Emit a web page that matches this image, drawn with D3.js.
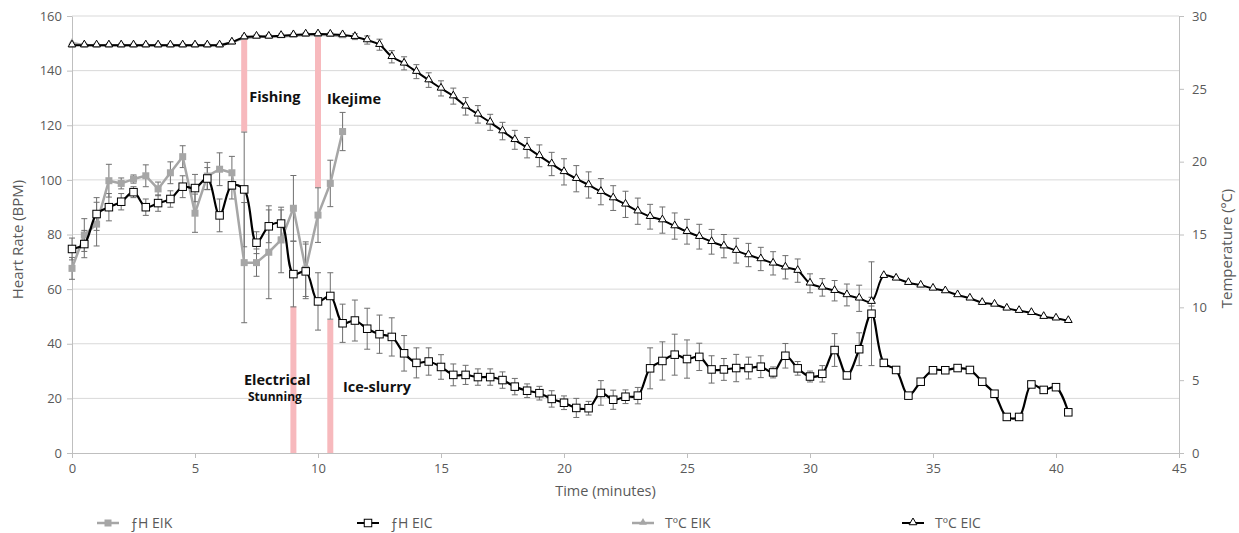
<!DOCTYPE html>
<html>
<head>
<meta charset="utf-8">
<script src="https://cdn.jsdelivr.net/npm/d3@7"></script>
<style>
  body { margin: 0; background: #fff; }
  text { font-family: "Open Sans", "DejaVu Sans", sans-serif; }
</style>
</head>
<body>
<div id="container"></div>
<script>
// times (minutes) for the EIC series and for the shorter EIK series
const timeEIC = [0, 0.5, 1, 1.5, 2, 2.5, 3, 3.5, 4, 4.5, 5, 5.5, 6, 6.5, 7, 7.5, 8, 8.5, 9, 9.5,
  10, 10.5, 11, 11.5, 12, 12.5, 13, 13.5, 14, 14.5, 15, 15.5, 16, 16.5, 17, 17.5, 18, 18.5, 19, 19.5,
  20, 20.5, 21, 21.5, 22, 22.5, 23, 23.5, 24, 24.5, 25, 25.5, 26, 26.5, 27, 27.5, 28, 28.5, 29, 29.5,
  30, 30.5, 31, 31.5, 32, 32.5, 33, 33.5, 34, 34.5, 35, 35.5, 36, 36.5, 37, 37.5, 38, 38.5, 39, 39.5,
  40, 40.5];
const timeEIK = [0, 0.5, 1, 1.5, 2, 2.5, 3, 3.5, 4, 4.5, 5, 5.5, 6, 6.5, 7, 7.5, 8, 8.5, 9, 9.5,
  10, 10.5, 11];

// heart rate (BPM)
const fhEIC = [74.7, 76.5, 87.5, 90, 92, 95.5, 90, 91.5, 93, 97.5, 97, 100.5, 87, 98, 96.5, 77, 83, 84,
  65.5, 66.5, 55.5, 57.5, 47.5, 48.5, 45.5, 43.5, 42.5, 36.5, 33, 33.5, 31.5, 28.6, 28.6, 27.8, 27.8,
  26.7, 24.3, 22.8, 21.9, 19.8, 18.4, 16.5, 16.4, 22, 19.5, 20.6, 21, 31, 33.7, 36, 34.4, 35.2, 30.6,
  30.6, 31.1, 31.1, 31.6, 29.5, 35.6, 31, 28, 29, 37.7, 28.4, 38, 51, 33, 30.4, 21, 26.1, 30.3, 30.3,
  31.1, 30.4, 26.1, 21.7, 13.2, 13.2, 25.1, 23.1, 24.1, 14.9];
const fhEICerr = [4, 5, 6, 5, 3, 2, 3, 3, 3, 4, 5, 4, 6, 5, 21, 4, 6, 5, 12, 10, 10.5, 8.5, 7, 7.5, 7.5,
  7, 7, 6.5, 5.5, 5, 4.5, 4, 3.5, 3, 3, 3, 3, 2.5, 2.5, 3, 2.5, 3.5, 2.5, 4.5, 3.5, 2.5, 3, 7.5, 7, 7.5,
  7, 5, 5, 4, 5, 4, 4, 2, 4.5, 2.5, 2, 3, 6, 1, 6, 19, 0, 0, 0, 0, 0, 0, 0, 0, 0, 0, 0, 0, 0, 0, 0, 0];
const fhEIK = [67.6, 79.8, 83.8, 99.7, 98.7, 100.3, 101.5, 96.7, 102.6, 108.5, 87.8, 101.4, 103.9,
  102.6, 69.7, 69.7, 73.5, 78, 89.6, 67.3, 87.1, 98.7, 117.7];
const fhEIKerr = [4, 6, 8, 6, 2, 1.5, 4, 2.5, 4, 4, 7, 5, 6, 6, 22, 5, 17, 12, 12, 10, 10, 8.5, 7];

// temperature (ºC)
const tEIC = [28, 28, 28, 28, 28, 28, 28, 28, 28, 28, 28, 28, 28, 28.2, 28.55, 28.6, 28.6, 28.65, 28.7,
  28.75, 28.76, 28.74, 28.7, 28.58, 28.35, 28.03, 27.2, 26.75, 26.18, 25.6, 25.03, 24.5, 23.8, 23.25,
  22.7, 22.1, 21.5, 20.96, 20.4, 19.84, 19.3, 18.83, 18.4, 17.94, 17.5, 17.07, 16.6, 16.22, 15.99,
  15.58, 15.19, 14.85, 14.5, 14.2, 13.89, 13.59, 13.32, 13.02, 12.75, 12.52, 11.65, 11.37, 11.14,
  10.85, 10.62, 10.39, 12.17, 11.99, 11.69, 11.51, 11.3, 11.12, 10.85, 10.62, 10.32, 10.2, 9.93, 9.77,
  9.63, 9.36, 9.25, 9.08];
const tEICerr = [0.12, 0.12, 0.12, 0.12, 0.12, 0.12, 0.12, 0.12, 0.12, 0.12, 0.12, 0.12, 0.12, 0.12,
  0.12, 0.12, 0.12, 0.12, 0.12, 0.12, 0.12, 0.12, 0.12, 0.2, 0.28, 0.38, 0.42, 0.45, 0.48, 0.5, 0.52,
  0.55, 0.6, 0.6, 0.55, 0.6, 0.65, 0.7, 0.75, 0.8, 0.9, 0.9, 0.9, 0.9, 0.85, 0.9, 0.9, 0.85, 0.9, 0.9,
  0.85, 0.85, 0.85, 0.8, 0.85, 0.8, 0.8, 0.8, 0.8, 0.8, 0.65, 0.6, 0.7, 0.75, 0.9, 0.3, 0, 0, 0, 0, 0,
  0, 0, 0, 0, 0, 0, 0, 0, 0, 0, 0];
const tEIK = [28.15, 28, 28, 28, 28, 28, 28, 28, 28, 28, 28, 28, 28, 28.2, 28.5, 28.55, 28.6, 28.6,
  28.65, 28.7, 28.7, 28.7, 28.6];

// event markers: [time, from BPM, to BPM]
const eventNames = ["Fishing", "Ikejime", "Electrical", "Ice-slurry"];
const eventTimes = [7, 10, 9, 10.5];
const eventFrom = [117.7, 97.3, 0, 0];
const eventTo = [153, 153, 53.6, 48.7];

const xTicks = [0, 5, 10, 15, 20, 25, 30, 35, 40, 45];
const yLTicks = [0, 20, 40, 60, 80, 100, 120, 140, 160];
const yRTicks = [0, 5, 10, 15, 20, 25, 30];
const legendNames = ["ƒH EIK", "ƒH EIC", "TºC EIK", "TºC EIC"];

const WIDTH = 1239, HEIGHT = 533;
const margin = { left: 72, right: 60, top: 16, bottom: 80 };

const svg = d3.select('#container').append('svg')
  .attr('width', WIDTH).attr('height', HEIGHT);

const x = d3.scaleLinear().domain([0, 45]).range([margin.left, WIDTH - margin.right]);
const yL = d3.scaleLinear().domain([0, 160]).range([HEIGHT - margin.bottom, margin.top]);
const yR = d3.scaleLinear().domain([0, 30]).range([HEIGHT - margin.bottom, margin.top]);

const GREY = '#a6a6a6', TICK = '#595959', GRID = '#d9d9d9';

// gridlines
svg.append('g')
  .selectAll('line').data(yLTicks.filter(d => d > 0)).join('line')
  .attr('x1', x(0)).attr('x2', x(45))
  .attr('y1', d => yL(d)).attr('y2', d => yL(d))
  .attr('stroke', GRID).attr('stroke-width', 1);

// axes
const styleAxis = g => {
  g.select('.domain').attr('stroke', '#bfbfbf');
  g.selectAll('.tick line').attr('stroke', '#bfbfbf');
  g.selectAll('.tick text').attr('fill', TICK).attr('font-size', 13)
    .attr('font-family', '"Open Sans", sans-serif');
};
svg.append('g').attr('transform', `translate(0,${yL(0)})`)
  .call(d3.axisBottom(x).tickValues(xTicks).tickSize(5).tickPadding(6).tickSizeOuter(0))
  .call(styleAxis);
svg.append('g').attr('transform', `translate(${x(0)},0)`)
  .call(d3.axisLeft(yL).tickValues(yLTicks).tickSize(5).tickPadding(5).tickSizeOuter(0))
  .call(styleAxis);
svg.append('g').attr('transform', `translate(${x(45)},0)`)
  .call(d3.axisRight(yR).tickValues(yRTicks).tickSize(5).tickPadding(8).tickSizeOuter(0))
  .call(styleAxis);

// axis titles
svg.append('text')
  .attr('transform', `translate(23,${(yL(0) + yL(160)) / 2 + 5}) rotate(-90)`)
  .attr('text-anchor', 'middle').attr('font-size', 15).attr('fill', TICK)
  .text('Heart Rate (BPM)');
svg.append('text')
  .attr('transform', `translate(1232,${(yL(0) + yL(160)) / 2 + 14}) rotate(-90)`)
  .attr('text-anchor', 'middle').attr('font-size', 15).attr('fill', TICK)
  .text('Temperature (ºC)');
svg.append('text')
  .attr('x', x(22.5) - 20).attr('y', 496)
  .attr('text-anchor', 'middle').attr('font-size', 14.5).attr('fill', TICK)
  .text('Time (minutes)');

// event bars
svg.append('g').selectAll('rect').data(eventTimes).join('rect')
  .attr('x', d => x(d) - 3).attr('width', 6)
  .attr('y', (d, i) => yL(eventTo[i]))
  .attr('height', (d, i) => yL(eventFrom[i]) - yL(eventTo[i]))
  .attr('fill', '#f7b9bd');

// error bars
const errorBars = (times, vals, errs, scale) => {
  const g = svg.append('g').attr('stroke', '#6f6f6f').attr('stroke-width', 1);
  times.forEach((t, i) => {
    if (!errs[i]) return;
    const cx = x(t), top = scale(vals[i] + errs[i]), bot = scale(vals[i] - errs[i]);
    g.append('line').attr('x1', cx).attr('x2', cx).attr('y1', top).attr('y2', bot);
    g.append('line').attr('x1', cx - 3).attr('x2', cx + 3).attr('y1', top).attr('y2', top);
    g.append('line').attr('x1', cx - 3).attr('x2', cx + 3).attr('y1', bot).attr('y2', bot);
  });
};
errorBars(timeEIK, fhEIK, fhEIKerr, yL);
errorBars(timeEIC, fhEIC, fhEICerr, yL);
errorBars(timeEIC, tEIC, tEICerr, yR);

// series
const straight = d3.curveLinear, smooth = d3.curveCatmullRom.alpha(0.5);
const drawLine = (times, vals, scale, color, width, curve) => {
  svg.append('path')
    .datum(times.map((t, i) => [t, vals[i]]))
    .attr('fill', 'none').attr('stroke', color).attr('stroke-width', width)
    .attr('stroke-linejoin', 'round')
    .attr('d', d3.line().x(d => x(d[0])).y(d => scale(d[1])).curve(curve));
};
const tri = d3.symbol().type(d3.symbolTriangle).size(26);

// fH EIK
drawLine(timeEIK, fhEIK, yL, GREY, 2.5, straight);
svg.append('g').selectAll('rect').data(timeEIK).join('rect')
  .attr('x', d => x(d) - 3.5).attr('y', (d, i) => yL(fhEIK[i]) - 3.5)
  .attr('width', 7).attr('height', 7).attr('fill', GREY);

// fH EIC
drawLine(timeEIC, fhEIC, yL, '#000', 2.2, smooth);
svg.append('g').selectAll('rect').data(timeEIC).join('rect')
  .attr('x', d => x(d) - 3.75).attr('y', (d, i) => yL(fhEIC[i]) - 3.75)
  .attr('width', 7.5).attr('height', 7.5).attr('fill', '#fff')
  .attr('stroke', '#000').attr('stroke-width', 1);

// TºC EIK
drawLine(timeEIK, tEIK, yR, GREY, 2.5, straight);
svg.append('g').selectAll('path').data(timeEIK).join('path')
  .attr('d', tri).attr('transform', (d, i) => `translate(${x(d)},${yR(tEIK[i]) - 0.5})`)
  .attr('fill', GREY);

// TºC EIC
drawLine(timeEIC, tEIC, yR, '#000', 2, smooth);
svg.append('g').selectAll('path').data(timeEIC).join('path')
  .attr('d', tri).attr('transform', (d, i) => `translate(${x(d)},${yR(tEIC[i]) - 0.5})`)
  .attr('fill', '#fff').attr('stroke', '#000').attr('stroke-width', 1);

// event labels
const lab = svg.append('g').attr('font-weight', 'bold').attr('fill', '#111');
lab.append('text').attr('x', x(eventTimes[0]) + 5).attr('y', 102).attr('font-size', 14.5).text(eventNames[0]);
lab.append('text').attr('x', x(eventTimes[1]) + 9).attr('y', 104).attr('font-size', 14.5).text(eventNames[1]);
lab.append('text').attr('x', 244).attr('y', 385).attr('font-size', 14.5).text(eventNames[2]);
lab.append('text').attr('x', 248).attr('y', 401).attr('font-size', 12).text('Stunning');
lab.append('text').attr('x', 343).attr('y', 392).attr('font-size', 14.5).text(eventNames[3]);

// legend
const legX = [97, 357, 632, 902];
const leg = svg.append('g');
legendNames.forEach((name, i) => {
  const lx = legX[i], ly = 523;
  const col = i % 2 === 0 ? GREY : '#000';
  leg.append('line').attr('x1', lx).attr('x2', lx + 22).attr('y1', ly).attr('y2', ly)
    .attr('stroke', col).attr('stroke-width', i % 2 === 0 ? 2.5 : 2);
  if (i === 0) {
    leg.append('rect').attr('x', lx + 7.5).attr('y', ly - 3.5).attr('width', 7).attr('height', 7).attr('fill', GREY);
  } else if (i === 1) {
    leg.append('rect').attr('x', lx + 7.25).attr('y', ly - 3.75).attr('width', 7.5).attr('height', 7.5)
      .attr('fill', '#fff').attr('stroke', '#000');
  } else {
    leg.append('path').attr('d', tri).attr('transform', `translate(${lx + 11},${ly - 0.5})`)
      .attr('fill', i === 2 ? GREY : '#fff').attr('stroke', i === 2 ? 'none' : '#000');
  }
  leg.append('text').attr('x', lx + 33).attr('y', ly + 5).attr('font-size', 14).attr('fill', TICK).text(name);
});
</script>
</body>
</html>
